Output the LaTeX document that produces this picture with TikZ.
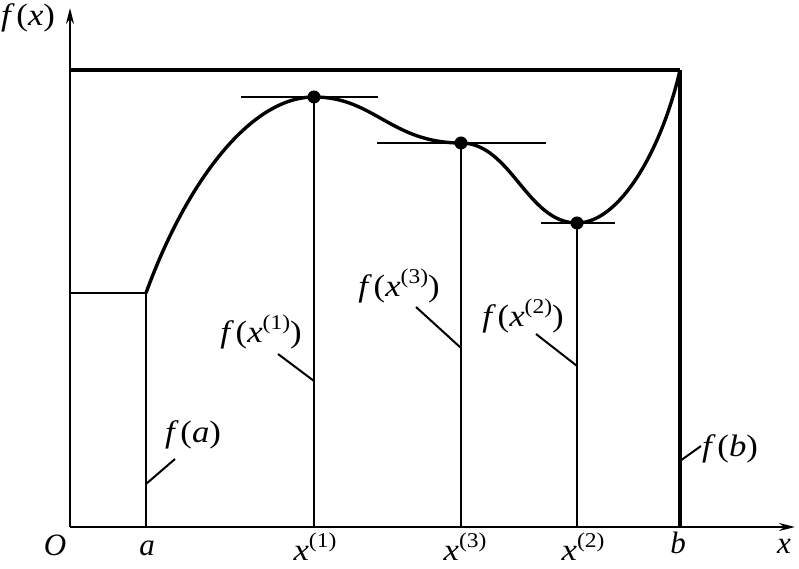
\documentclass[tikz,border=0pt]{standalone}
\usepackage{fontspec}
\setmainfont{Liberation Serif}
\usetikzlibrary{arrows.meta}
\newcommand{\mi}[1]{\textit{#1}}
\newcommand{\wide}[1]{\scalebox{1.12}[1]{#1}}
\newcommand{\fx}[1]{\wide{\mi{f\,}(\mi{#1})}}
\newcommand{\supn}[1]{\raisebox{0.42em}{\fontsize{21}{21}\selectfont (#1)}}
\newcommand{\xs}[1]{\mi{x}\supn{#1}}
\newcommand{\fxs}[1]{\wide{\mi{f\,}(\xs{#1})}}
\begin{document}
\begin{tikzpicture}[x=1pt,y=1pt,
  axisline/.style={line width=2pt},
  thinline/.style={line width=2pt},
  thickline/.style={line width=3.4pt},
  curveline/.style={line width=3.4pt, line join=round},
  dotpt/.style={circle, fill=black, inner sep=0pt, minimum size=13pt},
  lbl/.style={font=\fontsize{31}{33}\selectfont, inner sep=0pt},
  arrowtip/.style={-{Stealth[length=16pt,width=8pt]}}
]
\useasboundingbox (0,0) rectangle (799,569);
% key coordinates
\coordinate (O) at (70,42);
\coordinate (ytop) at (70,561);
\coordinate (xend) at (795,42);
\coordinate (fa0) at (70,276);
\coordinate (A) at (146,276);
\coordinate (Aa) at (146,42);
\coordinate (P1) at (314,472);
\coordinate (P1a) at (314,42);
\coordinate (P3) at (461,426);
\coordinate (P3a) at (461,42);
\coordinate (P2) at (577,346);
\coordinate (P2a) at (577,42);
\coordinate (B) at (680,499);
\coordinate (Ba) at (680,42);
\coordinate (T0) at (70,499);
% tangent ends
\coordinate (t1l) at (241,472); \coordinate (t1r) at (378,472);
\coordinate (t3l) at (377,426); \coordinate (t3r) at (546,426);
\coordinate (t2l) at (541,346); \coordinate (t2r) at (615,346);
% axes
\draw[axisline,arrowtip] (O) -- (ytop);
\draw[axisline,arrowtip] (O) -- (xend);
% f(a) level and verticals
\draw[thinline] (fa0) -- (A);
\draw[thinline] (Aa) -- (A);
\draw[thinline] (P1a) -- (P1);
\draw[thinline] (P3a) -- (P3);
\draw[thinline] (P2a) -- (P2);
\draw[thickline] (Ba) -- (B);
\draw[thickline] (T0) -- (B);
% tangents
\draw[thinline] (t1l) -- (t1r);
\draw[thinline] (t3l) -- (t3r);
\draw[thinline] (t2l) -- (t2r);
% curve
\draw[curveline] (A) .. controls (186,386) and (250,472) .. (P1)
  .. controls (374,472) and (391,426) .. (P3)
  .. controls (511,426) and (527,346) .. (P2)
  .. controls (620,346) and (662,420) .. (B);
\node[dotpt] (d1) at (P1) {};
\node[dotpt] (d3) at (P3) {};
\node[dotpt] (d2) at (P2) {};
% axis labels
\node[lbl] (lfx) at (28,551) {\fx{x}};
\node[lbl,anchor=base] (lO) at (55,13) {\mi{O}};
\node[lbl,anchor=base] (la) at (147,13) {\mi{a}};
\node[lbl,anchor=base] (lx1) at (315,8) {\wide{\xs{1}}};
\node[lbl,anchor=base] (lx3) at (465,8) {\wide{\xs{3}}};
\node[lbl,anchor=base] (lx2) at (583,8) {\wide{\xs{2}}};
\node[lbl,anchor=base] (lb) at (678,15) {\mi{b}};
\node[lbl,anchor=base] (lx) at (784,15) {\mi{x}};
% value labels
\node[lbl,anchor=base] (lfa) at (193,126) {\fx{a}};
\node[lbl,anchor=base] (lf1) at (261,226) {\fxs{1}};
\node[lbl,anchor=base] (lf3) at (399,272) {\fxs{3}};
\node[lbl,anchor=base] (lf2) at (523,242) {\fxs{2}};
\node[lbl,anchor=base] (lfb) at (730,112) {\fx{b}};
% leader lines
\coordinate (ka1) at (146,85); \coordinate (ka2) at (175,110);
\coordinate (k11) at (314,188); \coordinate (k12) at (278,215);
\coordinate (k31) at (461,221); \coordinate (k32) at (416,262);
\coordinate (k21) at (577,203); \coordinate (k22) at (536,235);
\coordinate (kb1) at (680,108); \coordinate (kb2) at (701,123);
\draw[thinline] (ka1) -- (ka2);
\draw[thinline] (k11) -- (k12);
\draw[thinline] (k31) -- (k32);
\draw[thinline] (k21) -- (k22);
\draw[thinline] (kb1) -- (kb2);
\end{tikzpicture}
\end{document}
